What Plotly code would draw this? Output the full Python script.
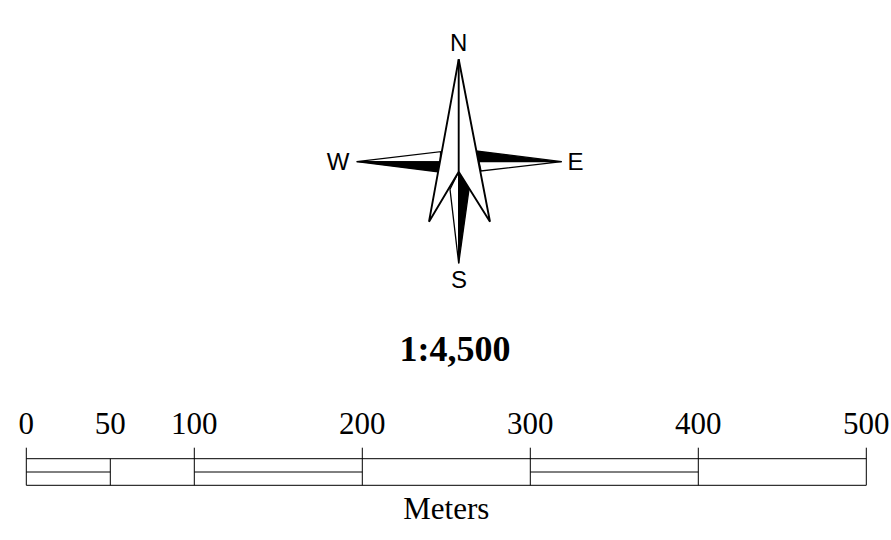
import plotly.graph_objects as go

# Scale bar, in metres
tick_values = [0, 50, 100, 200, 300, 400, 500]
tick_labels = ["0", "50", "100", "200", "300", "400", "500"]
long_ticks = [0, 100, 200, 300, 400, 500]
short_ticks = [50]
split_segments = [(0, 50), (100, 200), (300, 400)]
bar_extent = (0, 500)
unit_label = "Meters"
scale_text = "1:4,500"

# Vertical levels of the bar, on the page's y scale
tick_top, bar_top, bar_mid, bar_bottom = 447.7, 458.7, 472.0, 485.3
label_y, unit_y, scale_y = 426.5, 511, 352

# Compass rose, on the page's x/y scale
north_x = [458.7, 490.0, 458.7, 429.0]
north_y = [59.3, 221.7, 171.7, 221.7]
spine_x = [458.7, 458.7]
spine_y = [59.3, 171.7]
west_white_x = [356.7, 440.7, 440.0]
west_white_y = [161.7, 151.7, 162.0]
west_black_x = [356.7, 440.0, 437.3]
west_black_y = [161.7, 162.0, 171.7]
east_black_x = [561.7, 476.7, 479.0]
east_black_y = [161.7, 151.0, 161.7]
east_white_x = [561.7, 479.0, 481.0]
east_white_y = [161.7, 161.7, 171.0]
south_white_x = [458.7, 450.0, 458.7]
south_white_y = [263.3, 189.3, 171.7]
south_black_x = [458.7, 458.7, 469.0]
south_black_y = [263.3, 171.7, 189.3]
compass_letters = ["N", "W", "E", "S"]
compass_x = [458.7, 338, 575.5, 459]
compass_y = [45, 163.5, 163.5, 282]

PX_PER_M = 1.68
X0 = 26.3
W, H = 891, 540

fig = go.Figure()


def line(xs, ys, width=1.0, axis="x"):
    fig.add_trace(go.Scatter(x=xs, y=ys, mode="lines", xaxis=axis, yaxis="y",
                             line=dict(color="#000000", width=width),
                             hoverinfo="skip", showlegend=False))


def poly(xs, ys, fill, axis="x2", width=1.3):
    fig.add_trace(go.Scatter(x=xs + xs[:1], y=ys + ys[:1], mode="lines", xaxis=axis, yaxis="y",
                             fill="toself", fillcolor=fill,
                             line=dict(color="#000000", width=width),
                             hoverinfo="skip", showlegend=False))


# Scale bar
line(list(bar_extent), [bar_top, bar_top])
line(list(bar_extent), [bar_bottom, bar_bottom])
for a, b in split_segments:
    line([a, b], [bar_mid, bar_mid], 1.0)
for t in long_ticks:
    line([t, t], [tick_top, bar_bottom])
for t in short_ticks:
    line([t, t], [bar_top, bar_bottom])

# Compass points (behind the north arrow)
poly(west_white_x, west_white_y, "#ffffff")
poly(west_black_x, west_black_y, "#000000")
poly(east_black_x, east_black_y, "#000000")
poly(east_white_x, east_white_y, "#ffffff")
poly(south_white_x, south_white_y, "#ffffff")
poly(south_black_x, south_black_y, "#000000")
poly(north_x, north_y, "#ffffff", width=1.9)
line(spine_x, spine_y, 1.9, axis="x2")

SERIF = "Liberation Serif, Times New Roman, serif"
SANS = "Liberation Sans, Arial, sans-serif"

fig.add_trace(go.Scatter(x=tick_values, y=[label_y] * len(tick_values), mode="text",
                         text=tick_labels, textposition="middle center",
                         textfont=dict(family=SERIF, size=31, color="#000000"),
                         hoverinfo="skip", showlegend=False, cliponaxis=False))
fig.add_trace(go.Scatter(x=[250], y=[unit_y], mode="text", text=[unit_label],
                         textposition="middle center",
                         textfont=dict(family=SERIF, size=31, color="#000000"),
                         hoverinfo="skip", showlegend=False))
fig.add_trace(go.Scatter(x=[455], y=[scale_y], mode="text", xaxis="x2",
                         text=[f"<b>{scale_text}</b>"], textposition="middle center",
                         textfont=dict(family=SERIF, size=36, color="#000000"),
                         hoverinfo="skip", showlegend=False))
fig.add_trace(go.Scatter(x=compass_x, y=compass_y, mode="text", xaxis="x2",
                         text=compass_letters, textposition="middle center",
                         textfont=dict(family=SANS, size=24, color="#000000"),
                         hoverinfo="skip", showlegend=False))

hidden = dict(visible=False, showgrid=False, zeroline=False, fixedrange=True)
fig.update_layout(
    width=W, height=H, margin=dict(l=0, r=0, t=0, b=0, pad=0), autosize=False,
    paper_bgcolor="#ffffff", plot_bgcolor="#ffffff", showlegend=False,
    xaxis=dict(range=[-X0 / PX_PER_M, (W - X0) / PX_PER_M], domain=[0, 1], **hidden),
    xaxis2=dict(range=[0, W], domain=[0, 1], overlaying="x", anchor="y", **hidden),
    yaxis=dict(range=[H, 0], domain=[0, 1], **hidden),
)
fig.write_html("out.html", config=dict(displayModeBar=False),
               post_script="document.body.style.margin='0';document.body.style.overflow='hidden';")
